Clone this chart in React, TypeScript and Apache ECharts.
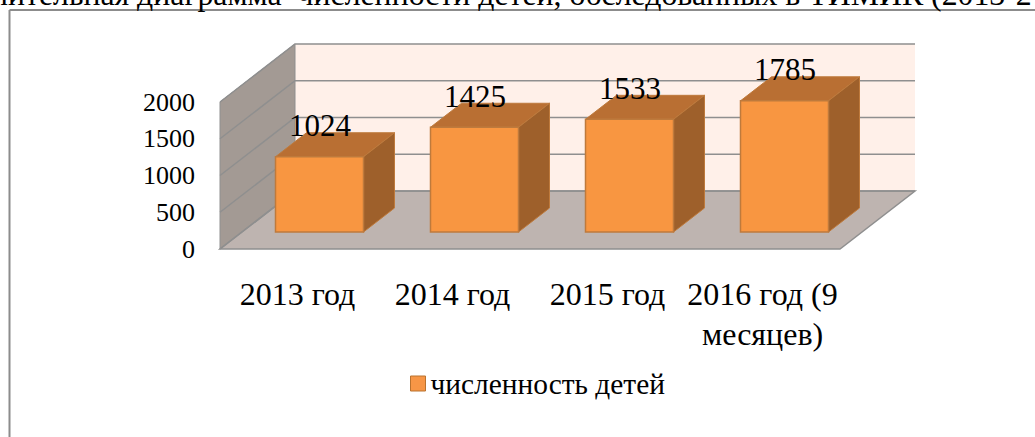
import React, { useEffect, useRef } from "react";
import * as echarts from "echarts";

const categories = ["2013 год", "2014 год", "2015 год", "2016 год (9\nмесяцев)"];
const values = [1024, 1425, 1533, 1785];
const yTicks = [0, 500, 1000, 1500, 2000];
const seriesName = "численность детей";
const clippedTitle = "нительная диаграмма  численности детей, обследованных в ТИМИК (2013-2";

const FONT = "'Liberation Serif', serif";
const WALL_DX = 75;
const WALL_DY = -58;
const BAR_OFFSET_DX = 22;
const BAR_OFFSET_DY = -17;
const BAR_DX = 31;
const BAR_DY = -24;
const BAR_W = 88;

const pts = (a: number[][]) => ({ points: a });

export default function App() {
  const ref = useRef<HTMLDivElement>(null);
  useEffect(() => {
    document.body.style.margin = "0";
    const chart = echarts.init(ref.current!, null, { renderer: "svg" });
    chart.setOption({
      animation: false,
      backgroundColor: "#fff",
      textStyle: { fontFamily: FONT },
      grid: { left: 220, right: 195, top: 102, bottom: 188 },
      legend: {
        data: [{ name: seriesName, icon: "rect", itemStyle: { color: "#F79646", borderColor: "#B9722F", borderWidth: 1 } }],
        left: 410,
        top: 369,
        padding: 0,
        itemWidth: 15,
        itemHeight: 15,
        itemGap: 3,
        textStyle: { fontFamily: FONT, fontSize: 29.4, color: "#000" },
      },
      xAxis: {
        type: "category",
        data: categories,
        axisLine: { show: false },
        axisTick: { show: false },
        splitLine: { show: false },
        axisLabel: {
          interval: 0,
          margin: 25,
          lineHeight: 40,
          fontFamily: FONT,
          fontSize: 32,
          color: "#000",
        },
      },
      yAxis: {
        type: "value",
        min: 0,
        max: 2000,
        interval: 500,
        axisLine: { show: false },
        axisTick: { show: false },
        splitLine: { show: false },
        axisLabel: {
          margin: 25,
          fontFamily: FONT,
          fontSize: 26,
          color: "#000",
          padding: [5, 0, 0, 0],
          formatter: (v: number) => String(v),
        },
      },
      graphic: [
        { type: "line", shape: { x1: 9.5, y1: 10, x2: 9.5, y2: 437 }, style: { stroke: "#8c8c8c", lineWidth: 2 } },
        { type: "line", shape: { x1: 9.5, y1: 10, x2: 1035, y2: 10 }, style: { stroke: "#8c8c8c", lineWidth: 2 } },
        {
          type: "text",
          x: -9,
          y: -6,
          style: { text: clippedTitle, font: `31.8px ${FONT}`, fill: "#000", textVerticalAlign: "middle" },
        },
      ],
      series: [
        {
          type: "custom",
          name: "walls",
          silent: true,
          z: 1,
          data: yTicks,
          encode: { y: 0 },
          renderItem: (params: any, api: any) => {
            const v = api.value(0);
            const [, yy] = api.coord([0, v]);
            const width = params.coordSys.width;
            const x0 = params.coordSys.x;
            const children: any[] = [];
            if (v === 0) {
              const top = api.coord([0, 2000])[1];
              children.push(
                { type: "polygon", shape: pts([[x0 + WALL_DX, top + WALL_DY], [x0 + width + WALL_DX, top + WALL_DY], [x0 + width + WALL_DX, yy + WALL_DY], [x0 + WALL_DX, yy + WALL_DY]]), style: { fill: "#FFF0E9" } },
                { type: "polygon", shape: pts([[x0, top], [x0 + WALL_DX, top + WALL_DY], [x0 + WALL_DX, yy + WALL_DY], [x0, yy]]), style: { fill: "#A39A94", stroke: "#8f8f8f", lineWidth: 1 } },
                { type: "polygon", shape: pts([[x0, yy], [x0 + width, yy], [x0 + width + WALL_DX, yy + WALL_DY], [x0 + WALL_DX, yy + WALL_DY]]), style: { fill: "#BEB4B0", stroke: "#8f8f8f", lineWidth: 1.5 } },
              );
            }
            children.push({
              type: "polyline",
              shape: pts([[x0, yy], [x0 + WALL_DX, yy + WALL_DY], [x0 + width + WALL_DX, yy + WALL_DY]]),
              style: { stroke: "#8f8f8f", lineWidth: 1.5, fill: "none" },
            });
            return { type: "group", children };
          },
        },
        {
          type: "custom",
          name: seriesName,
          z: 2,
          itemStyle: { color: "#F79646" },
          data: values.map((v, i) => [i, v]),
          encode: { x: 0, y: 1 },
          renderItem: (_params: any, api: any) => {
            const [cx, yTop0] = api.coord([api.value(0), api.value(1)]);
            const y0 = api.coord([0, 0])[1];
            const left = cx - BAR_W / 2 + BAR_OFFSET_DX;
            const right = left + BAR_W;
            const top = yTop0 + BAR_OFFSET_DY;
            const bottom = y0 + BAR_OFFSET_DY;
            const stroke = "#BE7A3C";
            return {
              type: "group",
              children: [
                { type: "polygon", shape: pts([[left, top], [right, top], [right + BAR_DX, top + BAR_DY], [left + BAR_DX, top + BAR_DY]]), style: { fill: "#B96F33", stroke, lineWidth: 1 } },
                { type: "polygon", shape: pts([[right, top], [right + BAR_DX, top + BAR_DY], [right + BAR_DX, bottom + BAR_DY], [right, bottom]]), style: { fill: "#9E602B", stroke, lineWidth: 1 } },
                { type: "polygon", shape: pts([[left, top], [right, top], [right, bottom], [left, bottom]]), style: { fill: "#F89641", stroke, lineWidth: 1.5 } },
                {
                  type: "text",
                  x: (left + right) / 2 + 0.5,
                  y: top - 31,
                  style: { text: String(api.value(1)), font: `31px ${FONT}`, fill: "#000", textAlign: "center", textVerticalAlign: "middle" },
                },
              ],
            };
          },
        },
      ],
    });
    return () => chart.dispose();
  }, []);
  return <div ref={ref} style={{ position: "absolute", left: 0, top: 0, width: 1035, height: 437 }} />;
}
